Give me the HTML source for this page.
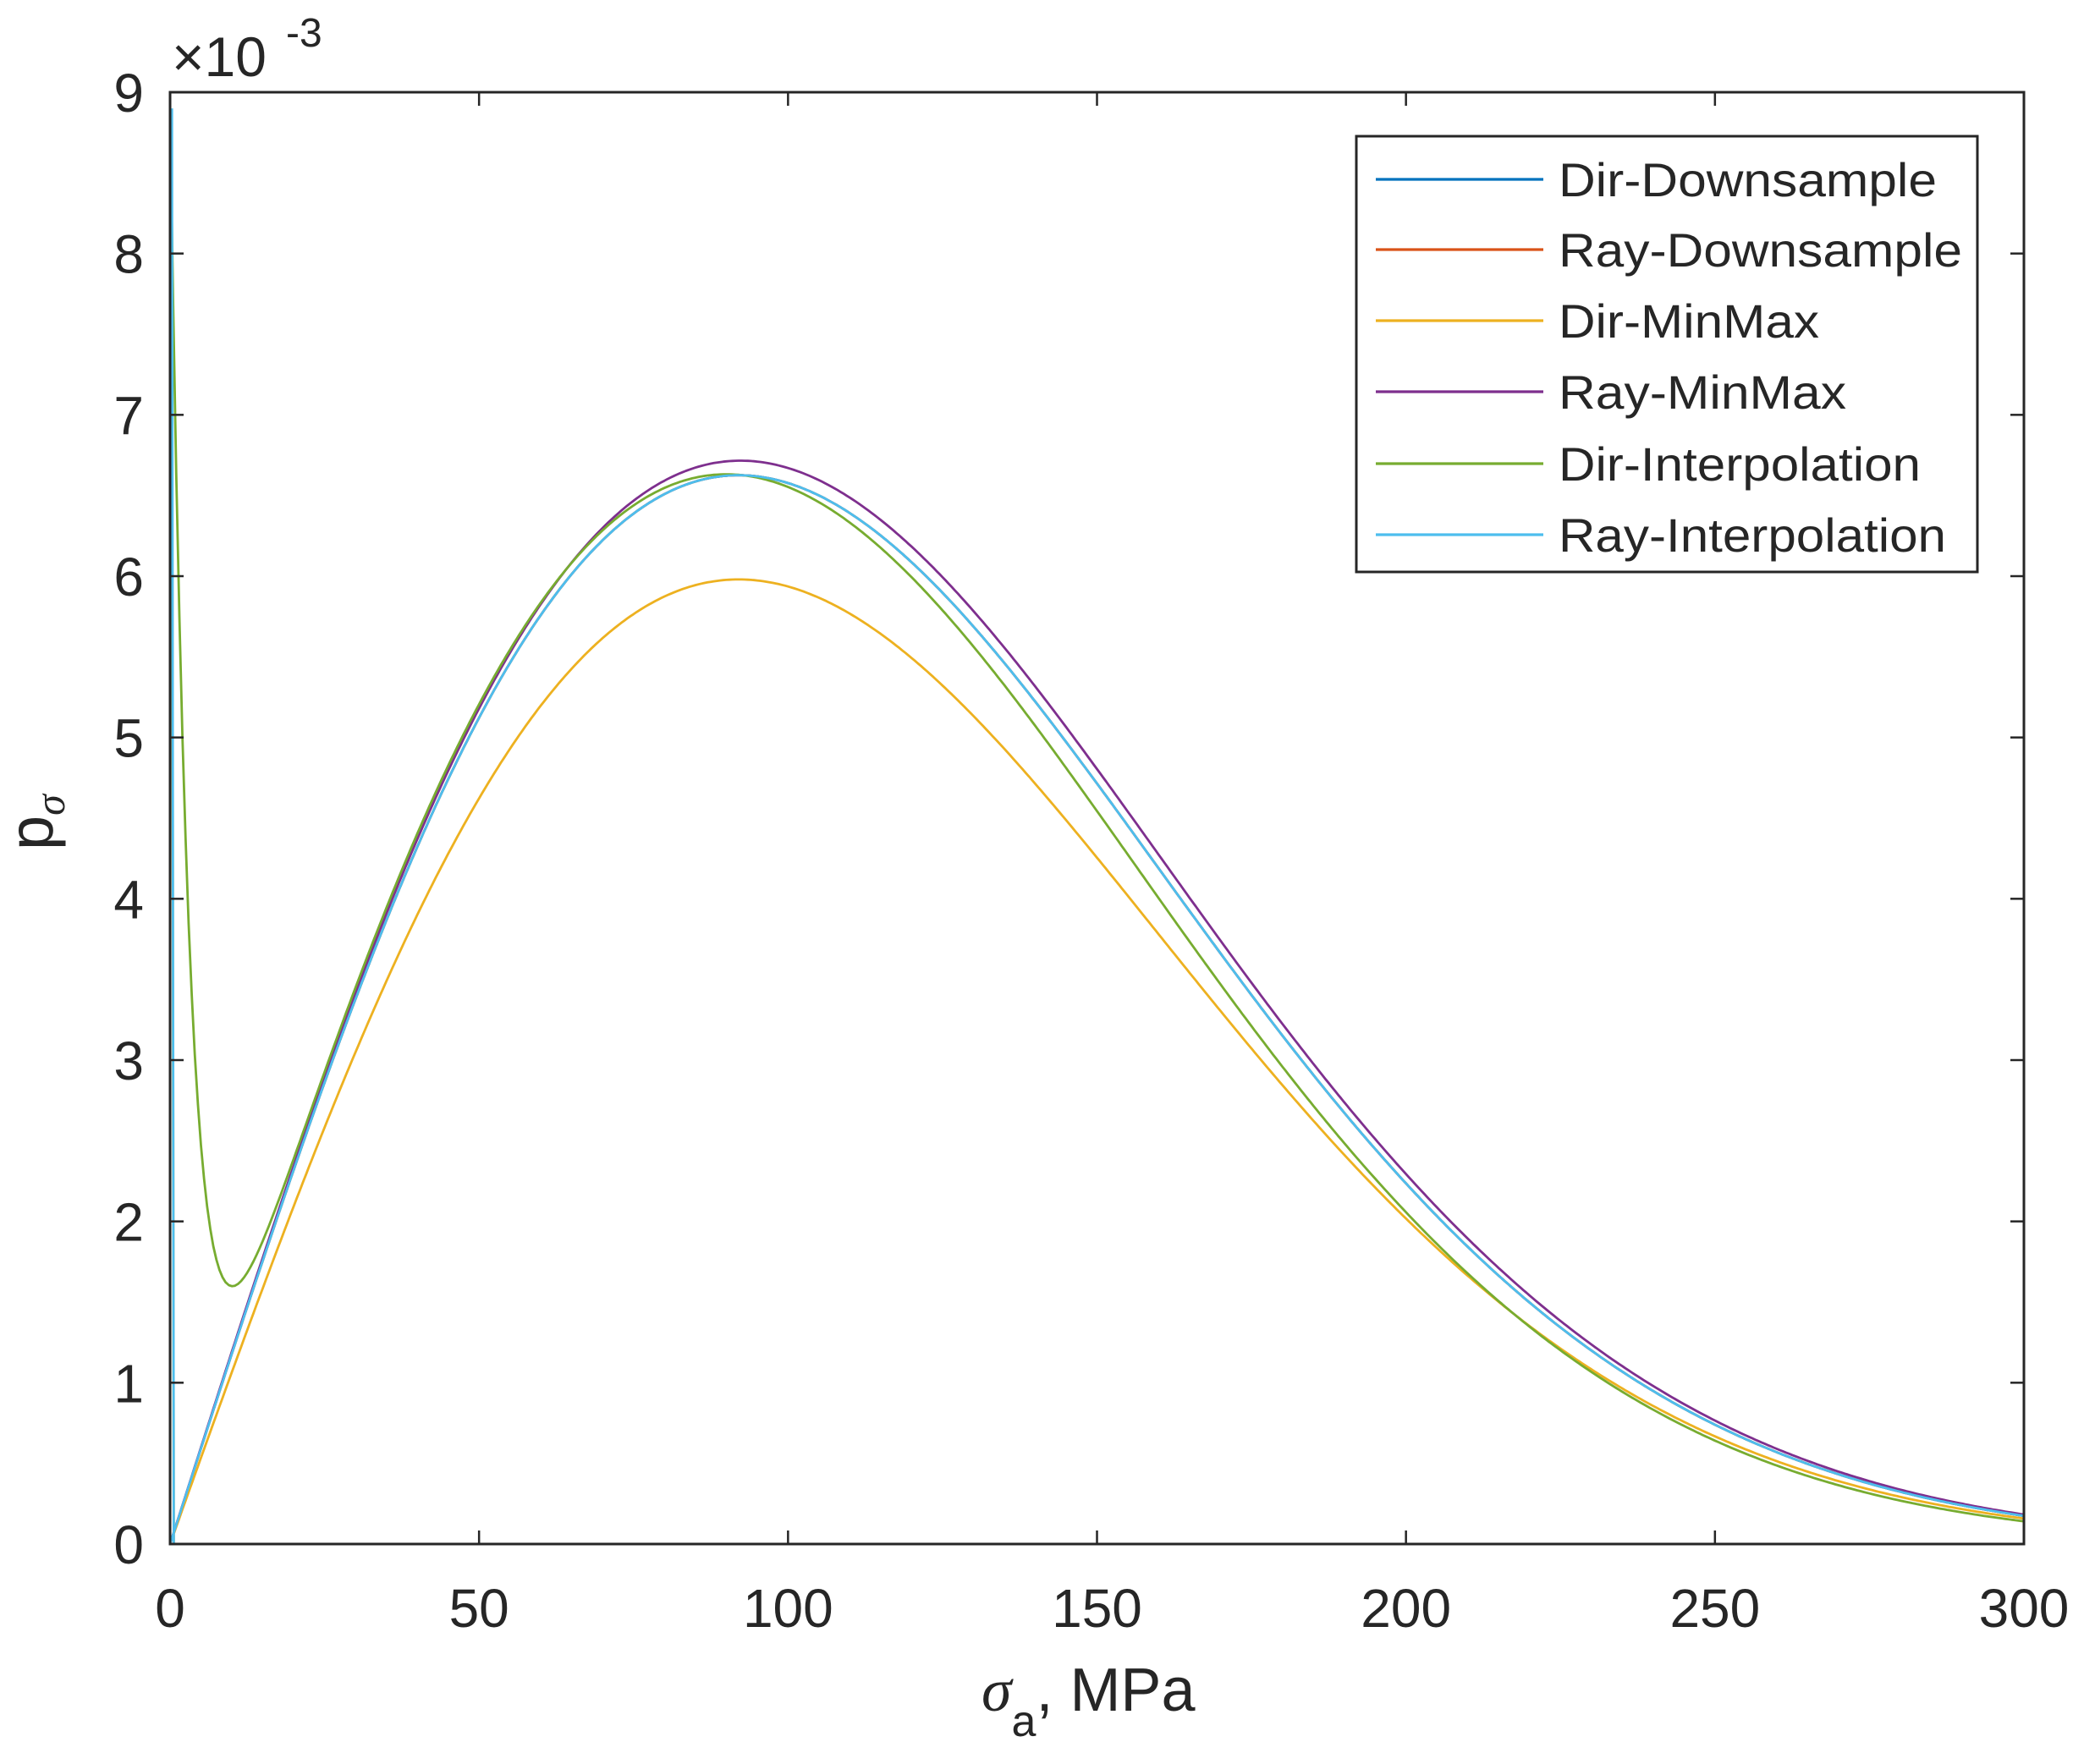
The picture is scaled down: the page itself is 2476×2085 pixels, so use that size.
<!DOCTYPE html>
<html><head><meta charset="utf-8"><style>
html,body{margin:0;padding:0;background:#fff;}
svg{display:block;}
text{font-family:"Liberation Sans",Arial,sans-serif;fill:#262626;}
</style></head><body>
<svg id="s" width="2476" height="2085" viewBox="0 0 2476 2085" xmlns="http://www.w3.org/2000/svg">
<rect width="2476" height="2085" fill="#fff"/>
<g id="curves" fill="none" stroke-width="2.8" stroke-linejoin="round"></g>
<g id="axes" stroke="#262626" stroke-width="3" fill="none"></g>
<g id="labels" font-size="64"></g>
<text x="203" y="90" font-size="66">×10</text>
<text x="338" y="55" font-size="48">-3</text>
<text transform="translate(62,1005) rotate(-90)" font-size="74">p<tspan font-size="50" dy="14" font-style="italic" font-family="Liberation Serif">σ</tspan></text>
<text x="1160" y="2022" font-size="72"><tspan font-family="Liberation Serif" font-style="italic">σ</tspan><tspan font-size="52" dy="30">a</tspan><tspan dy="-30">, MPa</tspan></text>
<g id="legend"></g>
</svg>
<script>
var L=201,R=2392,T=109,B=1825;
function X(v){return L+v*(R-L)/300;}
function Y(p){return B-p*1000*(B-T)/9;}
function ray(x,s,k){return k*x/(s*s)*Math.exp(-x*x/(2*s*s));}
var series=[
 {c:"#0072BD",f:function(x){return ray(x,92,1.005);}},
 {c:"#D95319",f:function(x){return ray(x,92,1.005);}},
 {c:"#EDB120",f:function(x){return ray(x,92,0.907);},spike:7.9e-3},
 {c:"#7E2F8E",f:function(x){return ray(x,92.3,1.022);}},
 {c:"#77AC30",f:function(x){return ray(x,90,0.984)+8.9e-3*Math.exp(-x/3.2);}},
 {c:"#4DBEEE",f:function(x){return ray(x,92,1.005);},spike:8.9e-3}
];
var g=document.getElementById('curves'),ns="http://www.w3.org/2000/svg";
series.forEach(function(s){
 var d="";
 if(s.spike){d="M"+X(0.3).toFixed(1)+","+Y(s.spike).toFixed(1)+"L"+X(0.6).toFixed(1)+","+Y(0).toFixed(1);}
 var first=!s.spike;
 for(var x=0;x<=300;x+=0.5){var p=s.f(x);d+=(first?"M":"L")+X(x).toFixed(1)+","+Y(p).toFixed(1);first=false;}
 var e=document.createElementNS(ns,'path');e.setAttribute('d',d);e.setAttribute('stroke',s.c);g.appendChild(e);
});
var a=document.getElementById('axes'),lab=document.getElementById('labels');
function line(x1,y1,x2,y2,w){var e=document.createElementNS(ns,'line');e.setAttribute('x1',x1);e.setAttribute('y1',y1);e.setAttribute('x2',x2);e.setAttribute('y2',y2);if(w)e.setAttribute('stroke-width',w);a.appendChild(e);}
function txt(x,y,t,anc){var e=document.createElementNS(ns,'text');e.setAttribute('x',x);e.setAttribute('y',y);e.setAttribute('text-anchor',anc);e.textContent=t;lab.appendChild(e);}
var r=document.createElementNS(ns,'rect');r.setAttribute('x',L);r.setAttribute('y',T);r.setAttribute('width',R-L);r.setAttribute('height',B-T);a.appendChild(r);
for(var i=0;i<=9;i++){var y=Y(i/1000);if(i>0&&i<9){line(L,y,L+16,y,2.5);line(R,y,R-16,y,2.5);}txt(170,y+23,String(i),"end");}
for(var j=0;j<=6;j++){var x=X(j*50);if(j>0&&j<6){line(x,B,x,B-16,2.5);line(x,T,x,T+16,2.5);}txt(x,1923,String(j*50),"middle");}
var lg=document.getElementById('legend');
var box=document.createElementNS(ns,'rect');box.setAttribute('x',1603);box.setAttribute('y',161);box.setAttribute('width',734);box.setAttribute('height',515);box.setAttribute('fill','#fff');box.setAttribute('stroke','#262626');box.setAttribute('stroke-width','3');lg.appendChild(box);
var names=["Dir-Downsample","Ray-Downsample","Dir-MinMax","Ray-MinMax","Dir-Interpolation","Ray-Interpolation"];
var tl=[447,477,308,340,428,458];
var ys=[212,295,379,463,548,632];
names.forEach(function(n,k){
 var l=document.createElementNS(ns,'line');l.setAttribute('x1',1626);l.setAttribute('x2',1824);l.setAttribute('y1',ys[k]);l.setAttribute('y2',ys[k]);l.setAttribute('stroke',series[k].c);l.setAttribute('stroke-width','3.2');lg.appendChild(l);
 var t=document.createElementNS(ns,'text');t.setAttribute('x',1842);t.setAttribute('y',ys[k]+20);t.setAttribute('font-size','56');t.setAttribute('textLength',tl[k]);t.setAttribute('lengthAdjust','spacingAndGlyphs');t.textContent=n;lg.appendChild(t);
});
</script>
</body></html>
